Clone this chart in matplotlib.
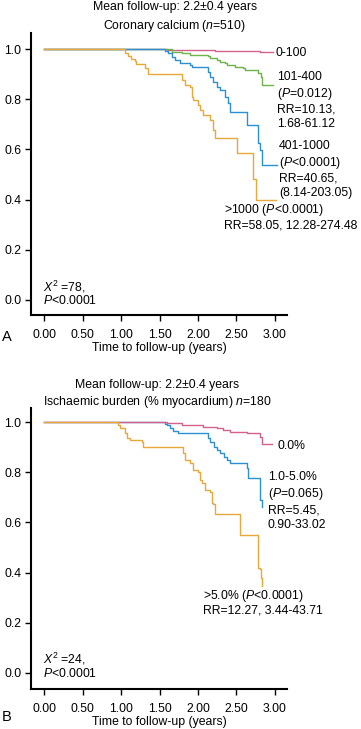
import matplotlib
matplotlib.use("Agg")
import matplotlib.pyplot as plt

plt.rcParams['font.family'] = ['Liberation Sans', 'DejaVu Sans']
plt.rcParams['mathtext.fontset'] = 'custom'
plt.rcParams['mathtext.rm'] = 'Liberation Sans'
plt.rcParams['mathtext.it'] = 'Liberation Sans:italic'

# ---------------- data (times in years, survival fraction) ----------------
# Panel A: coronary calcium
a_pink_t = [0, 1.60, 2.22, 2.80, 2.98]
a_pink_s = [1.0, 0.996, 0.992, 0.988, 0.988]

a_green_t = [0, 1.66, 1.79, 1.90, 2.13, 2.16, 2.25, 2.29, 2.35, 2.38, 2.48, 2.58, 2.61, 2.78, 2.82, 2.83, 2.97]
a_green_s = [1.0, 0.988, 0.984, 0.976, 0.972, 0.964, 0.956, 0.948, 0.944, 0.936, 0.928, 0.924, 0.916, 0.904, 0.888, 0.856, 0.856]

a_blue_t = [0, 1.57, 1.61, 1.66, 1.70, 1.77, 1.90, 1.92, 2.13, 2.16, 2.19, 2.25, 2.29, 2.35, 2.39, 2.41, 2.42, 2.64, 2.78, 2.81, 2.83, 3.02]
a_blue_s = [1.0, 0.992, 0.984, 0.968, 0.956, 0.944, 0.936, 0.928, 0.908, 0.888, 0.868, 0.848, 0.836, 0.808, 0.784, 0.764, 0.748, 0.696, 0.624, 0.596, 0.536, 0.536]

a_orange_t = [0, 1.05, 1.09, 1.13, 1.18, 1.19, 1.31, 1.35, 1.79, 1.83, 1.90, 1.92, 1.94, 2.00, 2.03, 2.06, 2.16, 2.19, 2.22, 2.51, 2.71, 2.75, 3.01]
a_orange_s = [1.0, 0.985, 0.972, 0.962, 0.953, 0.942, 0.925, 0.900, 0.876, 0.856, 0.850, 0.810, 0.796, 0.776, 0.756, 0.736, 0.716, 0.676, 0.644, 0.584, 0.484, 0.400, 0.400]

# Panel B: ischaemic burden
b_pink_t = [0, 1.60, 1.79, 2.06, 2.25, 2.33, 2.42, 2.64, 2.81, 2.83, 2.96]
b_pink_s = [1.0, 0.996, 0.988, 0.980, 0.976, 0.968, 0.960, 0.956, 0.940, 0.912, 0.912]

b_blue_t = [0, 1.57, 1.60, 1.64, 1.68, 1.74, 2.13, 2.16, 2.21, 2.25, 2.29, 2.34, 2.38, 2.42, 2.64, 2.65, 2.81, 2.83, 2.835]
b_blue_s = [1.0, 0.992, 0.988, 0.976, 0.964, 0.956, 0.936, 0.920, 0.900, 0.888, 0.876, 0.860, 0.848, 0.836, 0.816, 0.776, 0.688, 0.660, 0.660]

b_orange_t = [0, 0.96, 0.99, 1.05, 1.08, 1.12, 1.27, 1.29, 1.80, 1.83, 1.90, 1.94, 2.00, 2.03, 2.05, 2.09, 2.16, 2.18, 2.19, 2.22, 2.55, 2.78, 2.81, 2.82, 2.83, 2.835]
b_orange_s = [1.0, 0.988, 0.976, 0.956, 0.936, 0.928, 0.920, 0.900, 0.876, 0.848, 0.836, 0.808, 0.800, 0.768, 0.756, 0.728, 0.720, 0.676, 0.672, 0.632, 0.548, 0.420, 0.416, 0.380, 0.348, 0.348]

x_ticks = [0.0, 0.5, 1.0, 1.5, 2.0, 2.5, 3.0]
x_ticklabels = ["0.00", "0.50", "1.00", "1.50", "2.00", "2.50", "3.00"]
y_ticks = [0.0, 0.2, 0.4, 0.6, 0.8, 1.0]
y_ticklabels = ["0.0", "0.2", "0.4", "0.6", "0.8", "1.0"]

PINK = "#d4608c"
GREEN = "#6db24b"
BLUE = "#2b8fd6"
ORANGE = "#e8a83a"

W, H = 361, 729
fig = plt.figure(figsize=(W / 100, H / 100), dpi=100)
FS = 8.8


def px_axes(left, right, top, bottom):
    return fig.add_axes([left / W, 1 - bottom / H, (right - left) / W, (bottom - top) / H])


def T(x, y, s, ha="left", va="center", **kw):
    kw.setdefault("fontsize", FS)
    fig.text(x / W, 1 - y / H, s, ha=ha, va=va, **kw)


def style(ax, ylim):
    ax.set_xlim(-0.169, 3.156)
    ax.set_ylim(*ylim)
    for sp in ("top", "right"):
        ax.spines[sp].set_visible(False)
    for sp in ("left", "bottom"):
        ax.spines[sp].set_linewidth(1.5)
    ax.set_xticks(x_ticks)
    ax.set_xticklabels(x_ticklabels)
    ax.set_yticks(y_ticks)
    ax.set_yticklabels(y_ticklabels)
    ax.tick_params(axis="y", direction="out", length=4.5, width=1.0, pad=2.5, labelsize=FS)
    ax.tick_params(axis="x", direction="out", length=4.5, width=1.0, pad=5.5, labelsize=FS)


def curves(ax, groups):
    for t, s, c in groups:
        ax.step(t, s, where="post", color=c, lw=1.0)


# ---------------- Panel A ----------------
axA = px_axes(31, 287, 33, 315)
style(axA, (-0.06, 1.064))
curves(axA, [(a_pink_t, a_pink_s, PINK), (a_green_t, a_green_s, GREEN),
             (a_blue_t, a_blue_s, BLUE), (a_orange_t, a_orange_s, ORANGE)])

T(175, 7, "Mean follow-up: 2.2\u00b10.4 years", ha="center")
T(174, 26, r"Coronary calcium ($\mathit{n}$=510)", ha="center")
T(276, 53, "0-100")
T(277, 100.5, "101-400\n" r"($\mathit{P}$=0.012)" "\nRR=10.13,\n1.68-61.12", linespacing=1.22)
T(279, 169.5, "401-1000\n" r"($\mathit{P}$<0.0001)" "\nRR=40.65,\n(8.14-203.05)", linespacing=1.22)
T(224, 216.5, r">1000 ($\mathit{P}$<0.0001)" "\nRR=58.05, 12.28-274.48", linespacing=1.17)
T(43, 292.5, r"$\mathit{X}^2$ =78," "\n" r"$\mathit{P}$<0.0001", linespacing=0.9)
T(2, 337, "A", fontsize=10.5)
T(159, 348.5, "Time to follow-up (years)", ha="center")

# ---------------- Panel B ----------------
axB = px_axes(31, 287, 408, 689)
style(axB, (-0.064, 1.056))
curves(axB, [(b_blue_t, b_blue_s, BLUE), (b_pink_t, b_pink_s, PINK),
             (b_orange_t, b_orange_s, ORANGE)])

T(157.5, 385, "Mean follow-up: 2.2\u00b10.4 years", ha="center")
T(157, 402, r"Ischaemic burden (% myocardium) $\mathit{n}$=180", ha="center")
T(277, 446, "0.0%")
T(268, 501, "1.0-5.0%\n" r"($\mathit{P}$=0.065)" "\nRR=5.45,\n0.90-33.02", linespacing=1.3)
T(203, 602, r">5.0% ($\mathit{P}$<0.0001)" "\nRR=12.27, 3.44-43.71", linespacing=1.07)
T(43, 665, r"$\mathit{X}^2$ =24," "\n" r"$\mathit{P}$<0.0001", linespacing=1.0)
T(2, 717, "B", fontsize=10.5)
T(159, 722.5, "Time to follow-up (years)", ha="center")

fig.savefig("out.png", dpi=100)
